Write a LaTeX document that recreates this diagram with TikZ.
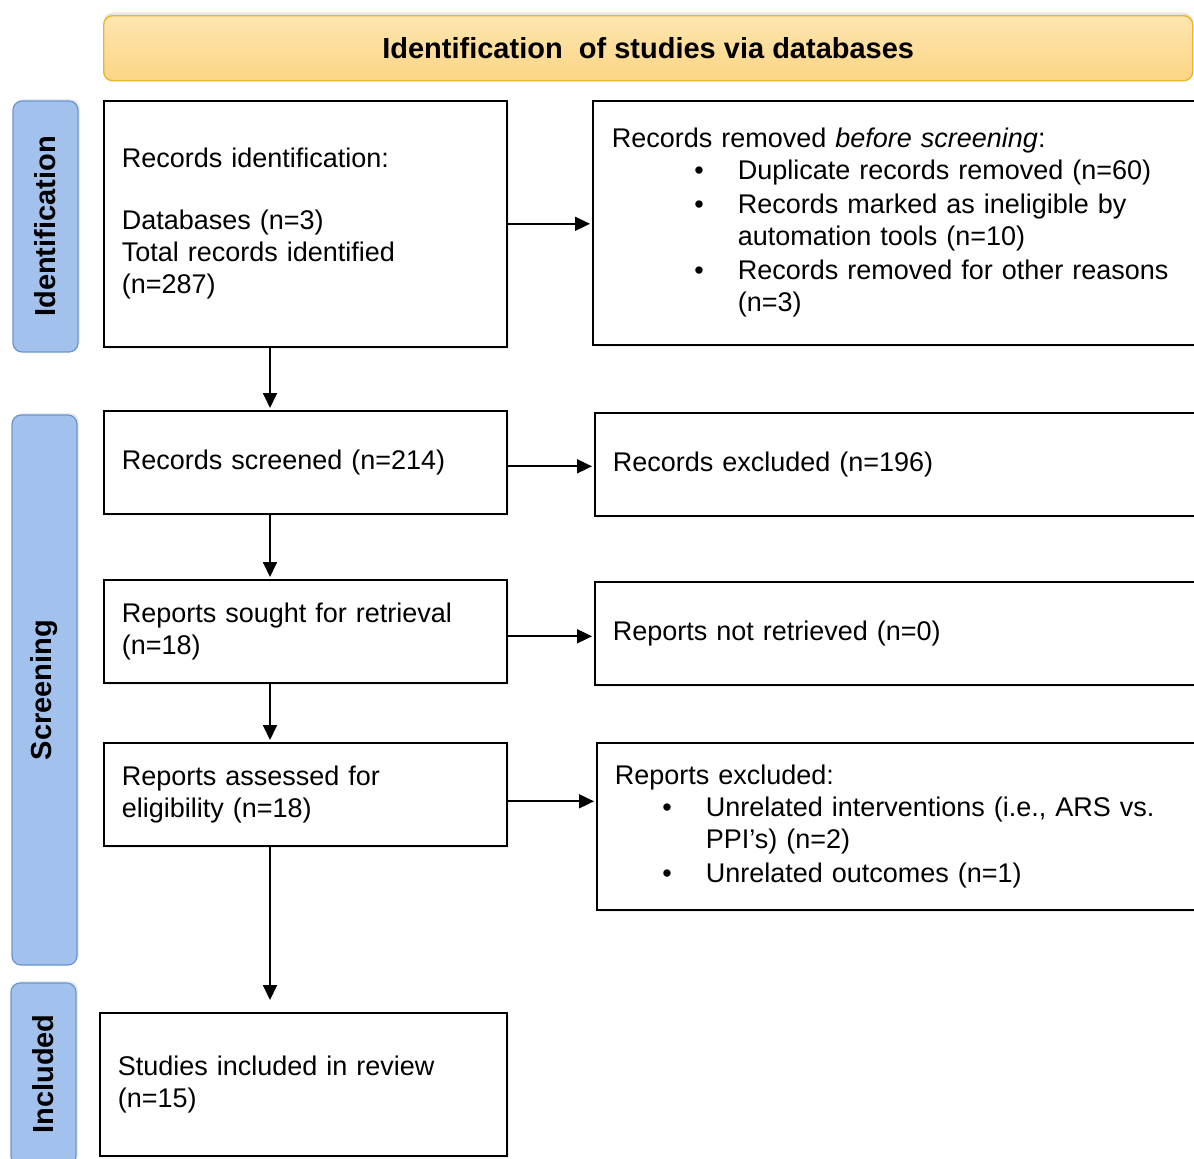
\documentclass[tikz,border=0pt]{standalone}
\usepackage{fontspec}
\setmainfont{Liberation Sans}
\usepackage{tikz}
\usetikzlibrary{shapes,arrows,arrows.meta}
\usetikzlibrary{calc,shadows}
\definecolor{headfill}{HTML}{FCD585}
\definecolor{headtop}{HTML}{FDE6B0}
\definecolor{headdraw}{HTML}{EDB52A}
\definecolor{sidefill}{HTML}{A2C1EC}
\definecolor{sidedraw}{HTML}{6A96D0}
\tikzstyle{line} = [draw, line width=1.8pt, -{Triangle[length=15pt,width=14pt]}, shorten >=2pt]
\tikzstyle{box} = [draw, line width=1.6pt, fill=white, anchor=north west, align=left, inner xsep=18pt, inner ysep=0pt, font=\fontsize{27}{32}\selectfont, drop shadow={shadow xshift=2pt, shadow yshift=-2pt, fill=black!12}]
\tikzstyle{sidebox} = [draw=sidedraw, line width=1.2pt, fill=sidefill, rounded corners=9pt, rotate=90, minimum height=65pt, font=\fontsize{29}{32}\selectfont\bfseries, drop shadow={shadow xshift=2pt, shadow yshift=2pt, fill=black!15}]
\tikzstyle{headbox} = [draw=headdraw, line width=1.4pt, top color=headtop, bottom color=headfill, rounded corners=9pt, anchor=north west, minimum width=1089pt, minimum height=65pt, font=\fontsize{29}{32}\selectfont\bfseries, drop shadow={shadow xshift=0pt, shadow yshift=3pt, fill=black!20}]
\newenvironment{bul}[1]{\begin{list}{\textbullet}{\setlength{\leftmargin}{#1}\setlength{\labelsep}{34pt}\setlength{\labelwidth}{10pt}\setlength{\itemsep}{2pt}\setlength{\topsep}{0pt}\setlength{\parsep}{0pt}\setlength{\partopsep}{0pt}}}{\end{list}}
\begin{document}
\begin{tikzpicture}[x=1pt,y=-1pt]

		\useasboundingbox (0,0) rectangle (1194,1159);
		\fill[white] (0,0) rectangle (1194,1159);
		\clip (0,0) rectangle (1194,1159);

		% header and phases
		\node[headbox] (head) at (103,15) {Identification\ \ of studies via databases};
		\node[sidebox, minimum width=251pt] (phaseid) at (45.5,226.5) {Identification};
		\node[sidebox, minimum width=550pt] (phasescr) at (44.5,690) {Screening};
		\node[sidebox, minimum width=182pt] (phaseinc) at (43.5,1074) {Included};

		% left column
		\node[box, text width=367pt, minimum height=246pt] (ident) at (103,100) {Records identification:\\[30pt]Databases (n=3)\\Total records identified\\(n=287)};
		\node[box, text width=367pt, minimum height=103pt] (screened) at (103,410) {Records screened (n=214)};
		\node[box, text width=367pt, minimum height=103pt] (sought) at (103,579) {Reports sought for retrieval\\(n=18)};
		\node[box, text width=367pt, minimum height=103pt] (assessed) at (103,742) {Reports assessed for\\eligibility (n=18)};
		\node[box, text width=371pt, minimum height=143pt] (included) at (99,1012) {Studies included in review\\(n=15)};

		% right column
		\node[box, text width=600pt, minimum height=244pt, inner xsep=19pt] (removed) at (592,100) {Records removed \textit{before screening}:
			\begin{bul}{126pt}
				\item Duplicate records removed (n=60)
				\item Records marked as ineligible by\\automation tools (n=10)
				\item Records removed for other reasons\\(n=3)
			\end{bul}};
		\node[box, text width=600pt, minimum height=103pt] (excluded) at (594,412) {Records excluded (n=196)};
		\node[box, text width=600pt, minimum height=103pt] (notretr) at (594,581) {Reports not retrieved (n=0)};
		\node[box, text width=600pt, minimum height=167pt] (repexcl) at (596,742) {Reports excluded:
			\begin{bul}{91pt}
				\item Unrelated interventions (i.e., ARS vs.\\PPI's) (n=2)
				\item Unrelated outcomes (n=1)
			\end{bul}};

		% connectors
		\coordinate (col) at (270,0);
		\draw [line] (ident.east) -- (ident.east -| removed.west);
		\draw [line] ($(screened.east)+(0,4)$) -- ($(screened.east -| excluded.west)+(0,4)$);
		\draw [line] ($(sought.east)+(0,5)$) -- ($(sought.east -| notretr.west)+(0,5)$);
		\draw [line] ($(assessed.east)+(0,7)$) -- ($(assessed.east -| repexcl.west)+(0,7)$);
		\draw [line] (ident.south -| col) -- (screened.north -| col);
		\draw [line] (screened.south -| col) -- (sought.north -| col);
		\draw [line] (sought.south -| col) -- (assessed.north -| col);
		\draw [line, shorten >=12pt] (assessed.south -| col) -- (included.north -| col);

\end{tikzpicture}
\end{document}
